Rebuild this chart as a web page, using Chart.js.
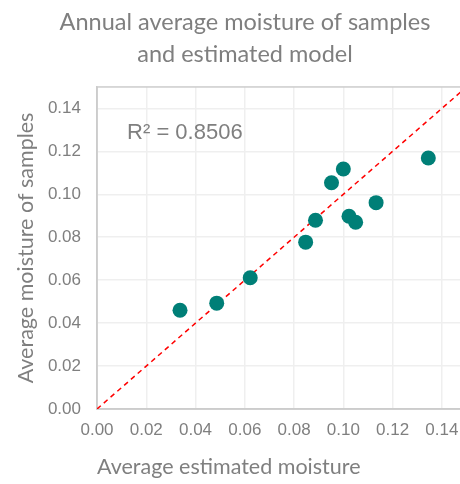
<!DOCTYPE html>
<html>
<head>
<meta charset="utf-8">
<script src="https://cdn.jsdelivr.net/npm/chart.js@4.4.0/dist/chart.umd.min.js"></script>
<style>
  html, body { margin: 0; padding: 0; background: #fff; overflow: hidden; }
  #wrap { width: 490px; height: 484px; }
</style>
</head>
<body>
<div id="wrap"><canvas id="myChart" width="490" height="484"></canvas></div>
<script>
// values
const estimatedMoisture = [0.0337, 0.0486, 0.0622, 0.0847, 0.0887, 0.0952, 0.1000, 0.1023, 0.1050, 0.1133, 0.1345];
const sampleMoisture    = [0.0460, 0.0493, 0.0611, 0.0777, 0.0879, 0.1054, 0.1118, 0.0898, 0.0870, 0.0961, 0.1169];
// 1:1 reference line
const lineX = [0, 0.15];
const lineY = [0, 0.15];
// tick labels on both axes
const tickValues = [0, 0.02, 0.04, 0.06, 0.08, 0.10, 0.12, 0.14];
const axisMin = 0;
const axisMax = 0.15;
const r2Text = 'R\u00B2 = 0.8506';

const grey = '#7f7f7f';
const titleFont = 'Lato, "Open Sans", sans-serif';
const tickFont = '"Liberation Sans", Arial, sans-serif';

const points = estimatedMoisture.map((x, i) => ({ x: x, y: sampleMoisture[i] }));
const linePts = lineX.map((x, i) => ({ x: x, y: lineY[i] }));

// frame round the plot area and the R² label
const extras = {
  id: 'extras',
  beforeDatasetsDraw(chart) {
    const a = chart.chartArea, c = chart.ctx;
    c.save();
    c.strokeStyle = '#cccccc';
    c.lineWidth = 1.5;
    c.strokeRect(a.left, a.top, a.right - a.left, a.bottom - a.top);
    c.restore();
  },
  afterDraw(chart) {
    const c = chart.ctx;
    const px = chart.scales.x.getPixelForValue(0.0122);
    const py = chart.scales.y.getPixelForValue(0.1286);
    c.save();
    c.fillStyle = grey;
    c.font = '22px ' + tickFont;
    c.textAlign = 'left';
    c.textBaseline = 'middle';
    c.fillText(r2Text, px, py);
    c.restore();
  }
};

const setTicks = (scale) => {
  scale.ticks = tickValues.map(v => ({ value: v }));
};

const ctx = document.getElementById('myChart');
new Chart(ctx, {
  type: 'scatter',
  data: {
    datasets: [
      {
        label: 'Samples',
        data: points,
        backgroundColor: '#007f77',
        borderColor: '#007f77',
        pointRadius: 7.5,
        pointHoverRadius: 7.5,
        borderWidth: 0
      },
      {
        type: 'line',
        label: '1:1',
        data: linePts,
        borderColor: '#ff0000',
        borderWidth: 1.5,
        borderDash: [5, 4],
        pointRadius: 0,
        fill: false,
        tension: 0
      }
    ]
  },
  options: {
    responsive: false,
    animation: false,
    devicePixelRatio: 1,
    layout: { padding: 0 },
    plugins: {
      legend: { display: false },
      tooltip: { enabled: false },
      title: {
        display: true,
        text: ['Annual average moisture of samples', 'and estimated model'],
        color: grey,
        font: { family: titleFont, size: 23.5, weight: 'normal', lineHeight: 1.35 },
        padding: { top: 7, bottom: 16.5 }
      }
    },
    scales: {
      x: {
        type: 'linear',
        min: axisMin,
        max: axisMax,
        afterBuildTicks: setTicks,
        afterFit(s) { s.height = 75; },
        ticks: {
          color: grey,
          font: { family: tickFont, size: 17 },
          padding: 11,
          callback: v => v.toFixed(2)
        },
        grid: { color: '#efefef', lineWidth: 1.5, drawTicks: false },
        border: { color: '#cccccc', width: 1.5 },
        title: {
          display: true,
          text: 'Average estimated moisture',
          align: 'start',
          color: grey,
          font: { family: titleFont, size: 21.5 },
          padding: { bottom: 4 }
        }
      },
      y: {
        type: 'linear',
        min: axisMin,
        max: axisMax,
        afterBuildTicks: setTicks,
        afterFit(s) { s.width = 97; },
        ticks: {
          color: grey,
          font: { family: tickFont, size: 17 },
          padding: 16,
          callback: v => v.toFixed(2)
        },
        grid: { color: '#efefef', lineWidth: 1.5, drawTicks: false },
        border: { color: '#cccccc', width: 1.5 },
        title: {
          display: true,
          text: 'Average moisture of samples',
          color: grey,
          font: { family: titleFont, size: 21.5 },
          padding: { top: 13 }
        }
      },
      // empty space on the right so the plot runs past the window edge
      spacer: {
        type: 'linear',
        position: 'right',
        min: 0,
        max: 1,
        afterFit(s) { s.width = 23.5; },
        ticks: { display: false },
        grid: { display: false },
        border: { display: false }
      }
    }
  },
  plugins: [extras]
});
</script>
</body>
</html>
